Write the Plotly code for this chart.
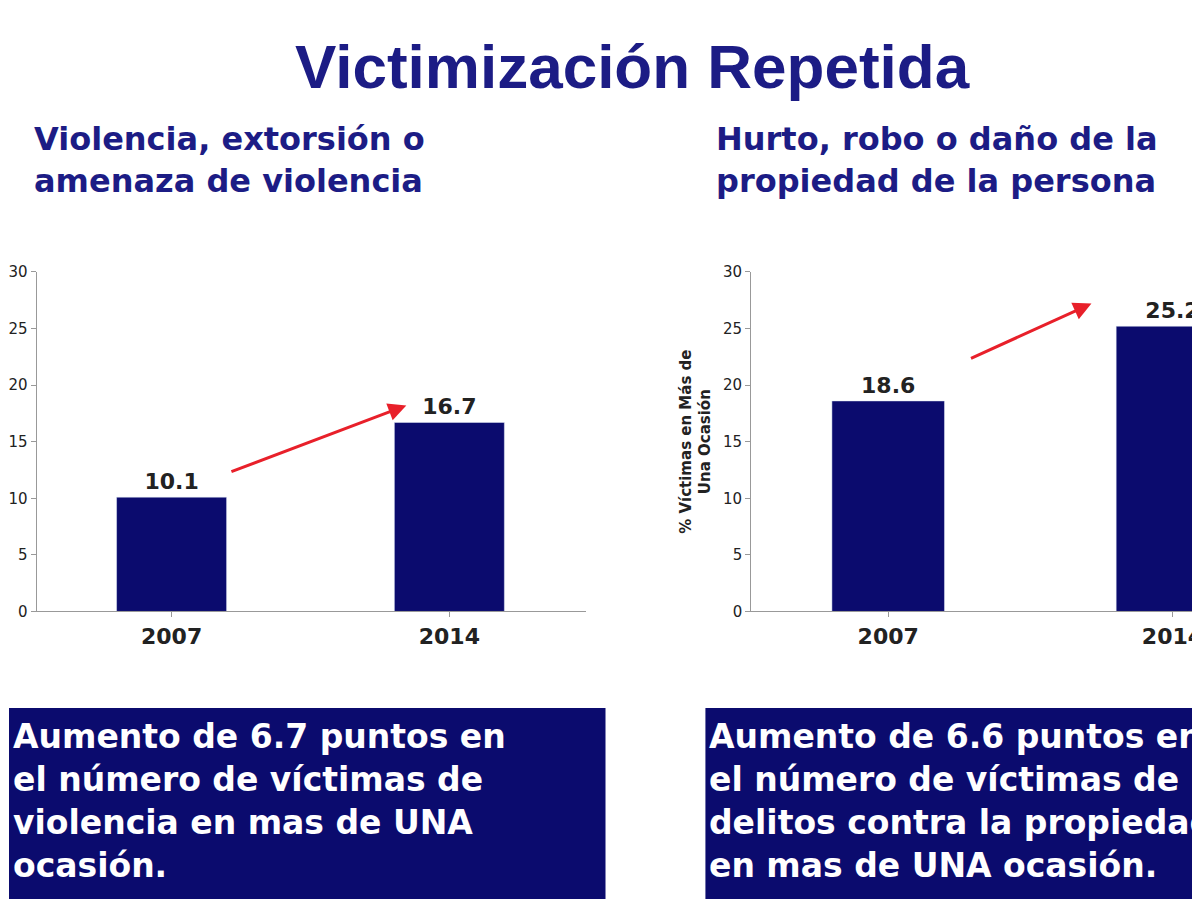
import plotly.graph_objects as go
from plotly.subplots import make_subplots

years = ['2007', '2014']
violencia = [10.1, 16.7]
propiedad = [18.6, 25.2]
y_ticks = [0, 5, 10, 15, 20, 25, 30]

navy = '#0b0b6e'
title_blue = '#1c1c85'
font_b = 'DejaVu Sans'

fig = make_subplots(rows=1, cols=2)
for col, vals in [(1, violencia), (2, propiedad)]:
    fig.add_trace(go.Bar(x=[0, 1], y=vals, width=0.396, marker_color=navy,
                         text=[f'<b>{v:.1f}</b>' for v in vals], textposition='outside',
                         textfont=dict(family=font_b, size=22, color='#222'),
                         cliponaxis=False, showlegend=False), row=1, col=col)

axis_y = dict(range=[0, 30], tickvals=y_ticks, showgrid=False, showline=True,
              linecolor='#999', ticks='outside', ticklen=5, tickcolor='#999',
              tickfont=dict(family=font_b, size=15, color='#222'),
              domain=[0.326, 0.711])
axis_x = dict(tickvals=[0, 1], ticktext=[f'<b>{y}</b>' for y in years], showgrid=False,
              showline=True, linecolor='#999', ticks='outside', tickcolor='#999',
              tickfont=dict(family=font_b, size=22, color='#222'))
fig.update_layout(
    xaxis=dict(axis_x, range=[-0.486, 1.493], domain=[0.023, 0.4815]),
    xaxis2=dict(axis_x, range=[-0.482, 1.125], domain=[0.619, 1.0]),
    yaxis=axis_y,
    yaxis2=dict(axis_y, title=dict(text='<b>% Víctimas en Más de<br>Una Ocasión</b>',
                                   font=dict(family=font_b, size=15, color='#222'),
                                   standoff=8)),
    width=1200, height=900, margin=dict(l=0, r=0, t=0, b=0),
    plot_bgcolor='white', paper_bgcolor='white')

# red arrows
for xr, yr, x0, y0, x1, y1 in [('x', 'y', 0.21, 12.3, 0.845, 18.2),
                                ('x2', 'y2', 0.286, 22.3, 0.715, 27.2)]:
    fig.add_annotation(x=x1, y=y1, ax=x0, ay=y0, xref=xr, yref=yr, axref=xr, ayref=yr,
                       showarrow=True, arrowhead=2, arrowsize=1.2, arrowwidth=3,
                       arrowcolor='#e8202a', text='')

fig.add_annotation(text='<b>Victimización Repetida</b>', x=0.52, y=0.985,
                   xref='paper', yref='paper', yanchor='top', showarrow=False,
                   font=dict(family='Liberation Sans', size=62, color=title_blue))
for x, txt in [(0.019, 'Violencia, extorsión o<br>amenaza de violencia'),
               (0.588, 'Hurto, robo o daño de la<br>propiedad de la persona')]:
    fig.add_annotation(text=f'<b>{txt}</b>', x=x, y=0.885, xref='paper', yref='paper',
                       xanchor='left', yanchor='top', align='left', showarrow=False,
                       font=dict(family=font_b, size=32, color=title_blue))

# bottom boxes
for x0, x1, txt in [(0, 597, 'Aumento de 6.7 puntos en<br>el número de víctimas de<br>violencia en mas de UNA<br>ocasión.'),
                    (697, 1200, 'Aumento de 6.6 puntos en<br>el número de víctimas de<br>delitos contra la propiedad<br>en mas de UNA ocasión.')]:
    fig.add_shape(type='rect', xref='paper', yref='paper', x0=x0 / 1200, x1=x1 / 1200,
                  y0=0, y1=1 - 705 / 900, fillcolor=navy, line_width=0)
    fig.add_annotation(text=f'<b>{txt}</b>', x=(x0 + 2) / 1200, y=1 - 712 / 900,
                       xref='paper', yref='paper', xanchor='left', yanchor='top',
                       align='left', showarrow=False,
                       font=dict(family=font_b, size=33, color='white'))

fig.write_html('out.html')
